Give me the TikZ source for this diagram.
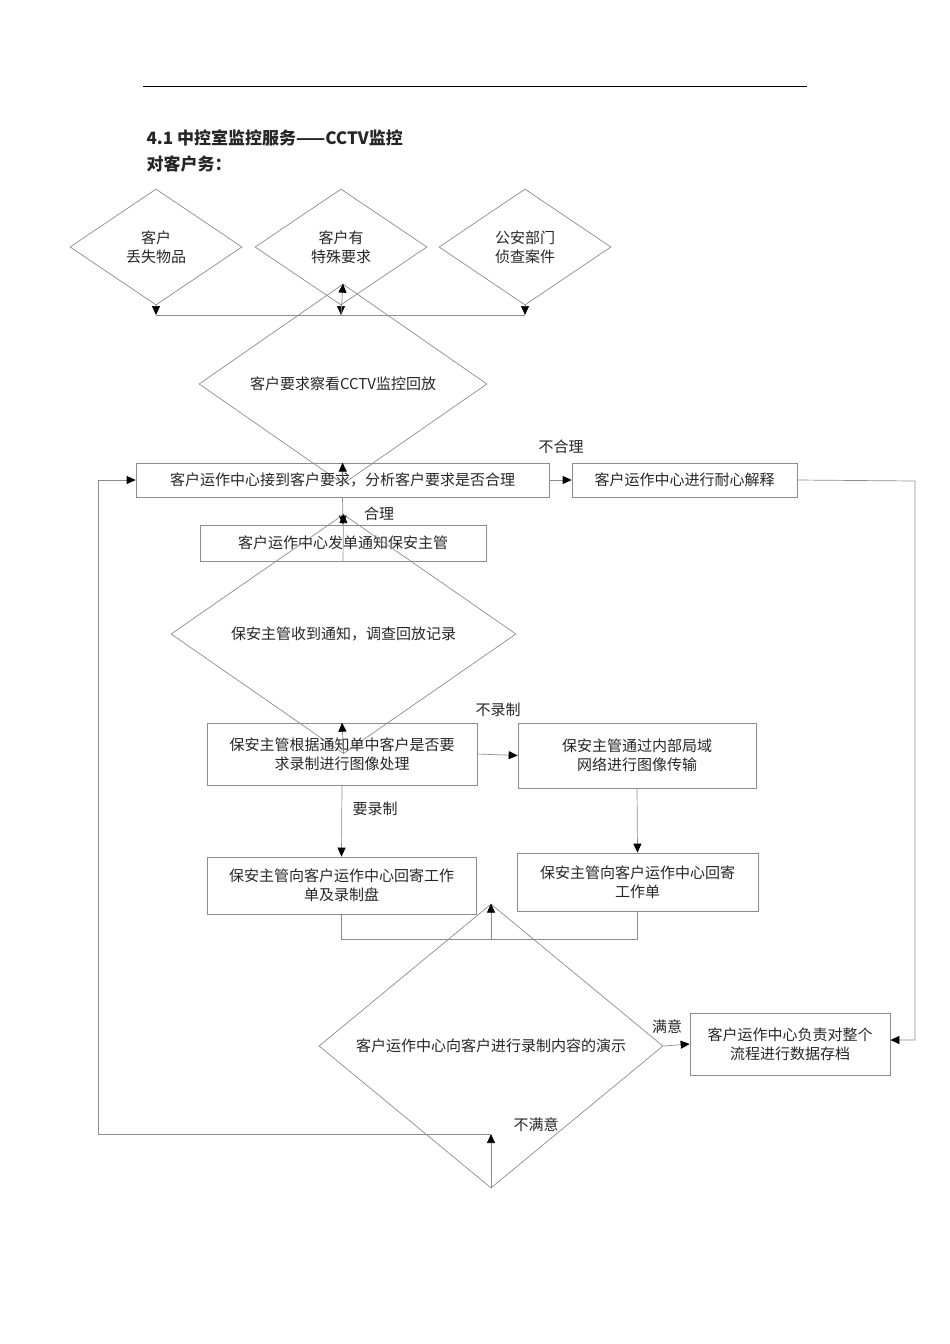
\documentclass[tikz,border=0pt]{standalone}
\usepackage{fontspec}
\setmainfont{Noto Sans CJK SC}
\usetikzlibrary{shapes.geometric,arrows.meta}
\begin{document}
\begin{tikzpicture}[x=1pt,y=-1pt,
  every node/.style={font=\fontsize{15}{19}\selectfont, align=center, text=black!85},
  ln/.style={draw=black!45, line width=0.7pt},
  arr/.style={ln, -{Triangle[black,length=9pt,width=8pt]}},
  bx/.style={draw=black!45, line width=0.7pt, rectangle, inner sep=0pt},
  dm/.style={draw=black!45, line width=0.7pt, diamond, inner sep=0pt},
  lbl/.style={font=\fontsize{15}{19}\selectfont}]
\useasboundingbox (0,0) rectangle (950,1344);
\draw[black, line width=1pt] (143,86) -- (807,86);
\node[anchor=west, font=\fontsize{17}{20}\selectfont\bfseries] (t1) at (143,138) {4.1 中控室监控服务——CCTV监控};
\node[anchor=west, font=\fontsize{17}{20}\selectfont\bfseries] (t2) at (143,164) {对客户务：};
\node[dm, minimum width=172, minimum height=116] (d1) at (156,247) {客户\\丢失物品};
\node[dm, minimum width=172, minimum height=116] (d2) at (341,247) {客户有\\特殊要求};
\node[dm, minimum width=172, minimum height=116] (d3) at (525,247) {公安部门\\侦查案件};
\coordinate (j1) at (156,315); \coordinate (j2) at (341,315); \coordinate (j3) at (525,315);
\draw[arr] (d1.south) -- (j1);
\draw[arr] (d2.south) -- (j2);
\draw[arr] (d3.south) -- (j3);
\draw[ln] (j1) -- (j3);
\node[dm, minimum width=288, minimum height=103] (d4) at (343,384) {客户要求察看CCTV监控回放};
\draw[arr] (j2) -- (d4.north);
\node[bx, minimum width=413, minimum height=34] (b1) at (342.5,480) {客户运作中心接到客户要求，分析客户要求是否合理};
\draw[arr] (d4.south) -- (b1.north);
\node[bx, minimum width=225, minimum height=34] (b2) at (684.5,480) {客户运作中心进行耐心解释};
\draw[arr] (b1.east) -- (b2.west);
\node[lbl] (l1) at (561,447) {不合理};
\node[bx, minimum width=286, minimum height=36] (b3) at (343,543) {客户运作中心发单通知保安主管};
\draw[arr] (b1.south) -- (b3.north);
\node[lbl] (l2) at (379,514) {合理};
\node[dm, minimum width=345, minimum height=112] (d5) at (343.5,634) {保安主管收到通知，调查回放记录};
\draw[arr] (b3.south) -- (d5.north);
\node[bx, minimum width=270, minimum height=62] (b4) at (342,754) {保安主管根据通知单中客户是否要\\求录制进行图像处理};
\draw[arr] (d5.south) -- (b4.north);
\node[bx, minimum width=238, minimum height=65] (b5) at (637,755.5) {保安主管通过内部局域\\网络进行图像传输};
\draw[arr] (b4.east) -- (b5.west);
\node[lbl] (l3) at (498,710) {不录制};
\node[bx, minimum width=269, minimum height=57] (b6) at (341.5,885.5) {保安主管向客户运作中心回寄工作\\单及录制盘};
\draw[arr] (b4.south) -- (b6.north);
\node[lbl] (l4) at (375,809) {要录制};
\node[bx, minimum width=241, minimum height=58] (b7) at (637.5,882) {保安主管向客户运作中心回寄\\工作单};
\draw[arr] (b5.south) -- (b7.north);
\node[dm, minimum width=344, minimum height=122] (d6) at (491,1046) {客户运作中心向客户进行录制内容的演示};
\coordinate (m1) at (341.5,939); \coordinate (m2) at (637.5,939); \coordinate (m3) at (491,939);
\draw[ln] (b6.south) -- (m1) -- (m2) -- (b7.south);
\draw[arr] (m3) -- (d6.north);
\node[bx, minimum width=200, minimum height=62] (b9) at (790,1044) {客户运作中心负责对整个\\流程进行数据存档};
\draw[arr] (d6.east) -- (b9.west);
\node[lbl] (l5) at (667,1027) {满意};
\coordinate (r1) at (915,481); \coordinate (r2) at (915,1040);
\draw[arr] (b2.east) -- (r1) -- (r2) -- (b9.east |- r2);
\coordinate (q1) at (491,1134); \coordinate (q2) at (98,1134); \coordinate (q3) at (98,480);
\draw[arr] (d6.south) -- (q1);
\draw[arr] (q1) -- (q2) -- (q3) -- (b1.west);
\node[lbl] (l6) at (536,1125) {不满意};
\end{tikzpicture}
\end{document}
